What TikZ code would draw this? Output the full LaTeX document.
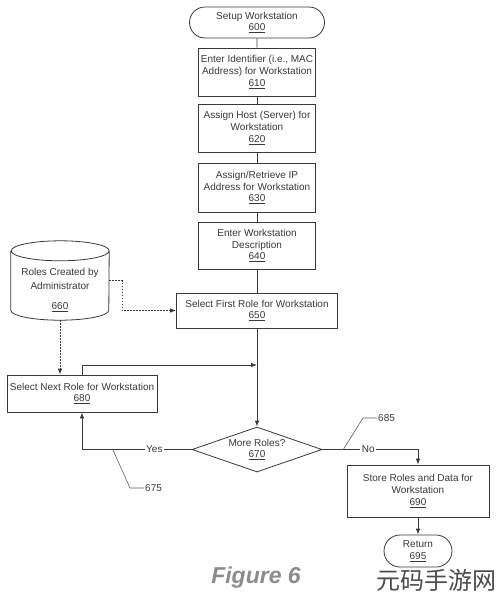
\documentclass[tikz,border=0pt]{standalone}
\usepackage{fontspec}
\setmainfont{Liberation Sans}
\newfontfamily\cjkfont{Noto Sans CJK SC}
\usetikzlibrary{shapes.geometric,shapes.misc,arrows.meta}
\definecolor{fgcolor}{gray}{0.22}
\definecolor{figcolor}{gray}{0.55}
\def\W{497}
\def\H{600}
\def\mainx{257}
\def\rx{49pt}
\def\ry{10pt}

\begin{document}
\begin{tikzpicture}[x=1pt,y=-1pt,
    every node/.style={font=\fontsize{10}{11.7}\selectfont,text=fgcolor},
    stepbox/.style={draw=fgcolor,line width=0.8pt,rectangle,align=center,inner sep=2pt,minimum width=117pt},
    termbox/.style={draw=fgcolor,line width=0.8pt,rounded rectangle,align=center,inner sep=2pt},
    decision/.style={draw=fgcolor,line width=0.8pt,diamond,align=center,aspect=2.9,inner sep=0pt,
        minimum width=130pt,minimum height=45pt},
    store/.style={rectangle,inner sep=0pt,minimum width=98pt,minimum height=79pt},
    storetext/.style={align=center,font=\fontsize{10}{14}\selectfont},
    flow/.style={draw=fgcolor,line width=0.8pt},
    arr/.style={flow,-{Latex[length=6pt,width=4.5pt]}},
    dotarr/.style={arr,dash pattern=on 1.5pt off 1.5pt},
    lead/.style={draw=fgcolor!80,line width=0.6pt},
    tag/.style={fill=white,inner sep=1.5pt}]
\useasboundingbox (0,0) rectangle (\W,\H);
% main column
\node[termbox,minimum width=139pt,minimum height=31pt] (n600) at (\mainx,22.5) {Setup Workstation\\\underline{600}};
\node[stepbox,minimum height=48pt] (n610) at (\mainx,72) {Enter Identifier (i.e., MAC\\Address) for Workstation\\\underline{610}};
\node[stepbox,minimum height=48pt] (n620) at (\mainx,128) {Assign Host (Server) for\\Workstation\\\underline{620}};
\node[stepbox,minimum height=49pt] (n630) at (\mainx,187.5) {Assign/Retrieve IP\\Address for Workstation\\\underline{630}};
\node[stepbox,minimum height=47pt] (n640) at (\mainx,245.5) {Enter Workstation\\Description\\\underline{640}};
\node[stepbox,minimum width=161pt,minimum height=35pt] (n650) at (\mainx,310.5) {Select First Role for Workstation\\\underline{650}};
\node[decision] (n670) at (\mainx,449.5) {More Roles?\\\underline{670}};
% side nodes
\node[store] (n660) at (60,280.5) {};
\draw[flow] ([yshift=-\ry]n660.north west) -- ([yshift=\ry]n660.south west)
    arc[start angle=180,end angle=360,x radius=\rx,y radius=\ry] -- ([yshift=-\ry]n660.north east)
    arc[start angle=0,end angle=180,x radius=\rx,y radius=\ry]
    arc[start angle=180,end angle=360,x radius=\rx,y radius=\ry];
\node[storetext] (n660txt) at (60,290) {Roles Created by\\Administrator\\[6pt]\underline{660}};
\node[stepbox,minimum width=150pt,minimum height=37pt] (n680) at (82,393.5) {Select Next Role for Workstation\\\underline{680}};
\node[stepbox,minimum width=142pt,minimum height=52pt] (n690) at (418,491) {Store Roles and Data for\\Workstation\\\underline{690}};
\node[termbox,minimum width=72pt,minimum height=32pt] (n695) at (418,551) {Return\\\underline{695}};
% connectors
\foreach \a/\b in {n600/n610,n610/n620,n620/n630,n630/n640,n640/n650}
    \draw[flow] (\a) -- (\b);
\draw[arr] (n650) -- (n670);
\coordinate (join) at (\mainx,365);
\draw[arr] (n680.north) |- (join);
\draw[arr] (n670.west) -| node[pos=0.17,tag] {Yes} (n680.south);
\draw[arr] (n670.east) -| node[pos=0.24,tag] {No} (n690.north);
\draw[arr] (n690) -- (n695);
\draw[dotarr] (n660.east) -- ++(13,0) |- (n650.west);
\draw[dotarr] (n660.south) -- (n660.south |- n680.north);
% reference numerals
\node[anchor=west,inner sep=1pt] (l685) at (377,418) {685};
\node[anchor=west,inner sep=1pt] (l675) at (144,488) {675};
\draw[lead] (343,450) -- (363,418) -- (l685.west);
\draw[lead] (113,450) -- (130,488) -- (l675.west);
% caption
\node[font=\bfseries\itshape\fontsize{23}{23}\selectfont,text=figcolor] (fig) at (256,578) {Figure 6};
\node[font=\cjkfont\fontsize{24}{24}\selectfont,text=black!70] (mark) at (436,580) {元码手游网};
\end{tikzpicture}
\end{document}
